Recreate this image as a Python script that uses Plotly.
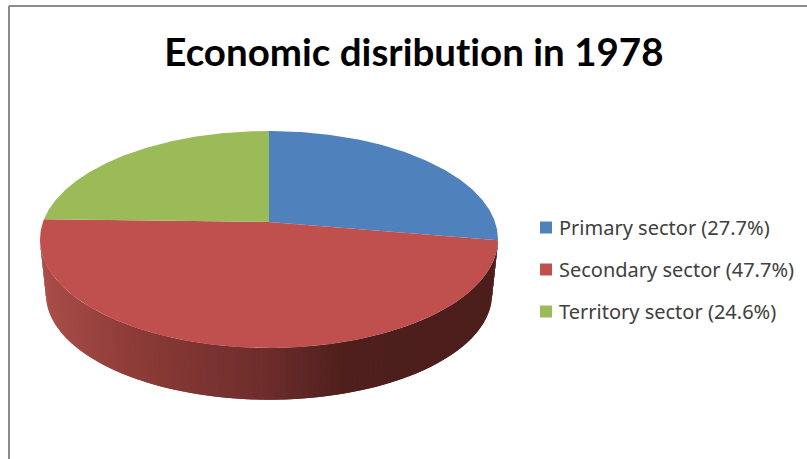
import math
import numpy as np
import plotly.graph_objects as go

# ---- data ----
categories = ["Primary sector", "Secondary sector", "Territory sector"]
shares = [27.7, 47.7, 24.6]
slice_colors = ["#4F81BD", "#C0504D", "#9BBB59"]
title_text = "Economic disribution in 1978"

# ---- tilted-disc projection (the pie's look, in pixel-like axis units) ----
CX, CY = 269.0, 222.0      # apex of the top face
RX, RY = 226.0, 105.7
K = 0.161                  # perspective
WALL_DY = 55.0             # apex shift for the underside
WALL_SCALE = 0.974         # underside is slightly smaller


def project(theta, dy=0.0, scale=1.0):
    theta = np.asarray(theta, dtype=float)
    w = 1 + K * np.cos(theta)
    return (CX + scale * RX * np.sin(theta) / w,
            CY + dy - scale * RY * np.cos(theta) / w)


def lerp_color(stops, x):
    xs = [s[0] for s in stops]
    return "rgb({},{},{})".format(
        *[int(round(np.interp(x, xs, [s[1][i] for s in stops]))) for i in range(3)]
    )


WALL_STOPS = [
    (40, (170, 78, 73)),
    (130, (142, 60, 56)),
    (269, (108, 45, 43)),
    (350, (78, 31, 28)),
    (498, (76, 30, 28)),
]

fig = go.Figure()

# side wall: the visible front of the disc, drawn as strips left to right
sil = math.acos(-K)
wall_angles = np.linspace(2 * math.pi - sil, sil, 131)
for a0, a1, a2 in zip(wall_angles[:-1], wall_angles[1:], np.r_[wall_angles[2:], wall_angles[-1]]):
    xt, yt = project([a0, a2])
    xb, yb = project([a2, a0], WALL_DY, WALL_SCALE)
    mid_x = float(project(a1)[0])
    fig.add_trace(go.Scatter(
        x=np.r_[xt, xb], y=np.r_[yt, yb], mode="lines", fill="toself",
        fillcolor=lerp_color(WALL_STOPS, mid_x), line=dict(width=0),
        hoverinfo="skip", showlegend=False,
    ))

# top face: one wedge per value, clockwise from 12 o'clock
total = sum(shares)
start = 0.0
for name, val, col in zip(categories, shares, slice_colors):
    end = start + val / total * 2 * math.pi
    th = np.linspace(start, end, 160)
    xr, yr = project(th)
    fig.add_trace(go.Scatter(
        x=np.r_[CX, xr, CX], y=np.r_[CY, yr, CY], mode="lines", fill="toself",
        fillcolor=col, line=dict(width=0), name=name,
        hoverinfo="name", showlegend=False,
    ))
    start = end

# legend key and label
LEG_X = 546
LEG_Y = [227.5, 269.5, 311.5]
for name, val, col, ly in zip(categories, shares, slice_colors, LEG_Y):
    fig.add_trace(go.Scatter(
        x=[LEG_X], y=[ly], mode="markers", hoverinfo="skip", showlegend=False,
        marker=dict(symbol="square", size=12, color=col, line=dict(width=0)),
    ))
    fig.add_annotation(
        x=556.5, y=ly, xref="x", yref="y", xanchor="left", yanchor="middle",
        text=f"{name} ({val}%)", showarrow=False,
        font=dict(family="Noto Sans", size=20, color="#404040"),
    )

fig.add_annotation(
    x=414, y=51, xref="x", yref="y", xanchor="center", yanchor="middle",
    text=f"<b>{title_text}</b>", showarrow=False,
    font=dict(family="Lato", size=38.5, color="#000000"),
)

# chart-area frame
frame = dict(color="#8C8C8C", width=2)
fig.add_shape(type="line", x0=9, x1=807, y0=6, y1=6, xref="x", yref="y", line=frame)
fig.add_shape(type="line", x0=9, x1=9, y0=6, y1=459, xref="x", yref="y", line=frame)

fig.update_layout(
    width=807, height=459, autosize=False,
    margin=dict(l=0, r=0, t=0, b=0),
    paper_bgcolor="white", plot_bgcolor="white", showlegend=False,
    xaxis=dict(range=[0, 807], visible=False, fixedrange=True),
    yaxis=dict(range=[459, 0], visible=False, fixedrange=True),
)
POST = (
    "document.body.style.margin='0';document.body.style.overflow='hidden';"
    "var s=document.createElement('style');"
    "s.textContent='text,tspan{font-variant-ligatures:none !important;"
    "font-feature-settings:\"liga\" 0,\"clig\" 0 !important;}';"
    "document.head.appendChild(s);"
)
fig.write_html("out.html", config={"displayModeBar": False}, post_script=POST)
